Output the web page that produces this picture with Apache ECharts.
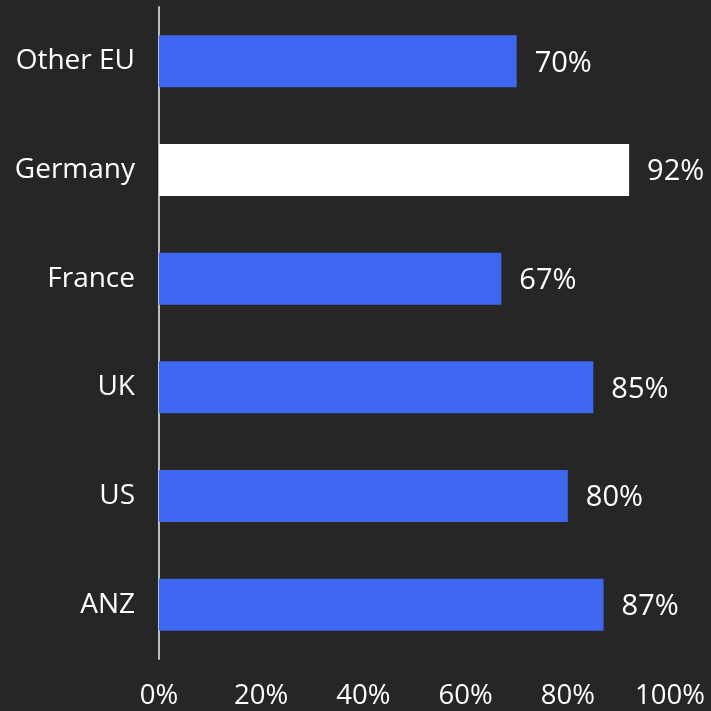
<!DOCTYPE html>
<html>
<head>
<meta charset="utf-8">
<script src="https://cdn.jsdelivr.net/npm/echarts@6/dist/echarts.min.js"></script>
<style>
  html, body { margin: 0; padding: 0; background: #262626; }
  #chart { width: 711px; height: 711px; }
</style>
</head>
<body>
<div id="chart"></div>
<script>
// categories from bottom to top
var regions = ['ANZ', 'US', 'UK', 'France', 'Germany', 'Other EU'];
var shares = [87, 80, 85, 67, 92, 70];
var highlight = 'Germany';
var xTicks = [0, 20, 40, 60, 80, 100];

var blue = '#3f66f0';
var font = '"Open Sans", sans-serif';

var myChart = echarts.init(document.getElementById('chart'));

var barData = [];
for (var i = 0; i < regions.length; i++) {
    barData.push({
        value: shares[i],
        itemStyle: { color: regions[i] == highlight ? '#ffffff' : blue }
    });
}

myChart.setOption({
    backgroundColor: '#262626',
    animation: false,
    grid: { left: 159, right: 41, top: 7, bottom: 52 },
    xAxis: {
        type: 'value',
        min: xTicks[0],
        max: xTicks[xTicks.length - 1],
        interval: 20,
        axisLine: { show: false },
        axisTick: { show: false },
        splitLine: { show: false },
        axisLabel: {
            color: '#ffffff',
            fontSize: 27.5,
            fontFamily: font,
            margin: 23,
            formatter: '{value}%'
        }
    },
    yAxis: {
        type: 'category',
        data: regions,
        axisLine: { show: true, lineStyle: { color: '#bdbdbd', width: 2 } },
        axisTick: { show: false },
        axisLabel: {
            color: '#ffffff',
            fontSize: 28,
            fontFamily: font,
            margin: 24,
            verticalAlign: 'middle',
            lineHeight: 28,
            padding: [6, 0, 0, 0]
        }
    },
    series: [{
        type: 'bar',
        data: barData,
        barWidth: 52,
        label: {
            show: true,
            position: 'right',
            distance: 18,
            offset: [0, 2],
            formatter: '{c}%',
            color: '#ffffff',
            fontSize: 29,
            fontFamily: font
        }
    }]
});
</script>
</body>
</html>
